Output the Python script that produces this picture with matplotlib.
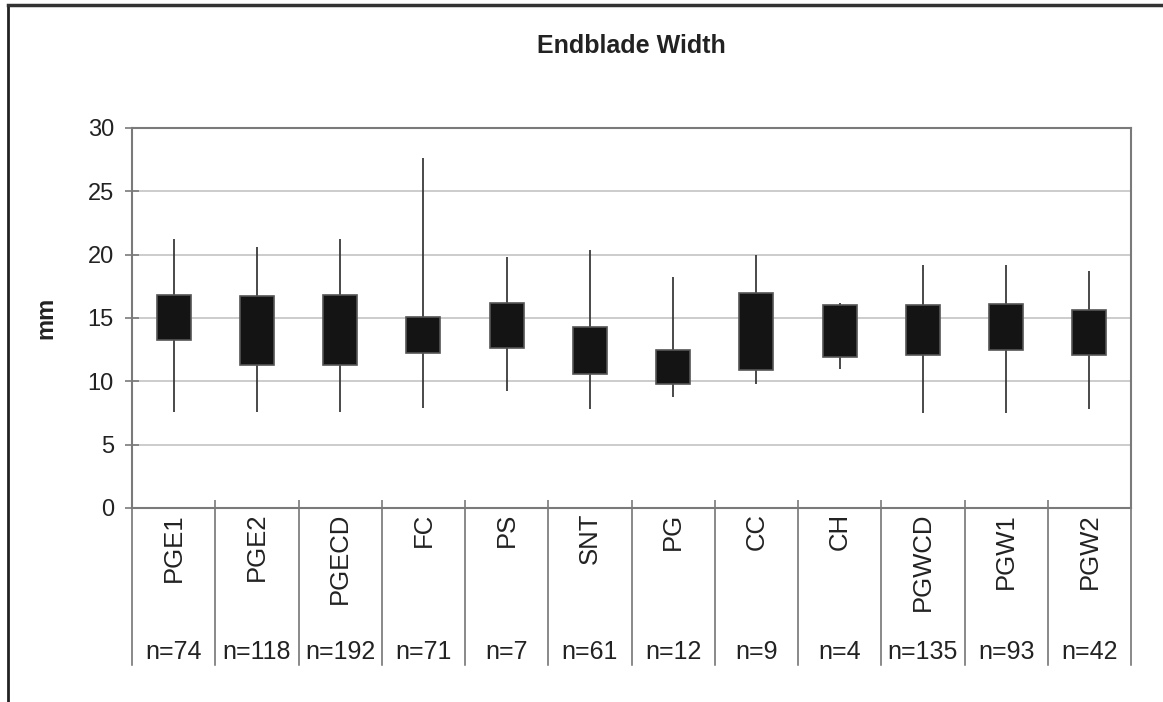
import matplotlib.pyplot as plt
from matplotlib.lines import Line2D

plt.rcParams['font.family'] = ['Liberation Sans', 'DejaVu Sans']

# Data (mm)
groups = ['PGE1', 'PGE2', 'PGECD', 'FC', 'PS', 'SNT', 'PG', 'CC', 'CH', 'PGWCD', 'PGW1', 'PGW2']
counts = [74, 118, 192, 71, 7, 61, 12, 9, 4, 135, 93, 42]
lows = [7.6, 7.6, 7.6, 7.9, 9.2, 7.8, 8.8, 9.8, 11.0, 7.5, 7.5, 7.8]
box_low = [13.3, 11.3, 11.3, 12.2, 12.6, 10.6, 9.8, 10.9, 11.9, 12.1, 12.5, 12.1]
box_high = [16.8, 16.7, 16.8, 15.1, 16.2, 14.3, 12.5, 17.0, 16.0, 16.0, 16.1, 15.6]
highs = [21.2, 20.6, 21.2, 27.6, 19.8, 20.4, 18.2, 20.0, 16.2, 19.2, 19.2, 18.7]

fig = plt.figure(figsize=(11.63, 7.02), dpi=100)
ax = fig.add_axes([0.1135, 0.2764, 0.859, 0.5413])

x = list(range(len(groups)))
ax.vlines(x, lows, highs, color='#3a3a3a', linewidth=1.3, zorder=2)
heights = [h - l for l, h in zip(box_low, box_high)]
ax.bar(x, heights, bottom=box_low, width=0.41, color='#141414',
       edgecolor='#555555', linewidth=1.2, zorder=3)

ax.set_xlim(-0.5, len(groups) - 0.5)
ax.set_ylim(0, 30)
ax.set_yticks(range(0, 31, 5))
ax.grid(axis='y', color='#c4c4c4', linewidth=1.2, zorder=0)
ax.set_axisbelow(True)

for s in ax.spines.values():
    s.set_color('#7a7a7a')
    s.set_linewidth(1.5)

ax.tick_params(axis='y', direction='inout', length=10, width=1.2, color='#7a7a7a',
               labelsize=17, pad=8, labelcolor='#222222')
bounds = [i - 0.5 for i in range(len(groups) + 1)]
ax.set_xticks(bounds)
ax.set_xticklabels([])
ax.tick_params(axis='x', direction='in', length=6, width=1.2, color='#7a7a7a')

ax.set_ylabel('mm', fontsize=17, fontweight='bold', labelpad=22, color='#222222')
ax.set_title('Endblade Width', fontsize=18, fontweight='bold', pad=54, color='#222222')

# category table under the axis
trans = ax.get_xaxis_transform()
for b in bounds:
    ax.plot([b, b], [0, -0.413], transform=trans, color='#6a6a6a',
            linewidth=1.1, clip_on=False)
for i, (g, n) in enumerate(zip(groups, counts)):
    ax.text(i, -0.013, g, transform=trans, rotation=90, ha='center', va='top',
            fontsize=18.5, color='#222222')
    ax.text(i, -0.379, f'n={n}', transform=trans, ha='center', va='center',
            fontsize=18, color='#222222')

# outer frame of the chart
W, H = 1163, 702
fig.add_artist(Line2D([8 / W, 8 / W], [0, 1 - 5 / H], transform=fig.transFigure,
                      color='#222222', linewidth=2))
fig.add_artist(Line2D([8 / W, 1], [1 - 5 / H, 1 - 5 / H], transform=fig.transFigure,
                      color='#333333', linewidth=2.5))

fig.savefig('out.png', dpi=100)
